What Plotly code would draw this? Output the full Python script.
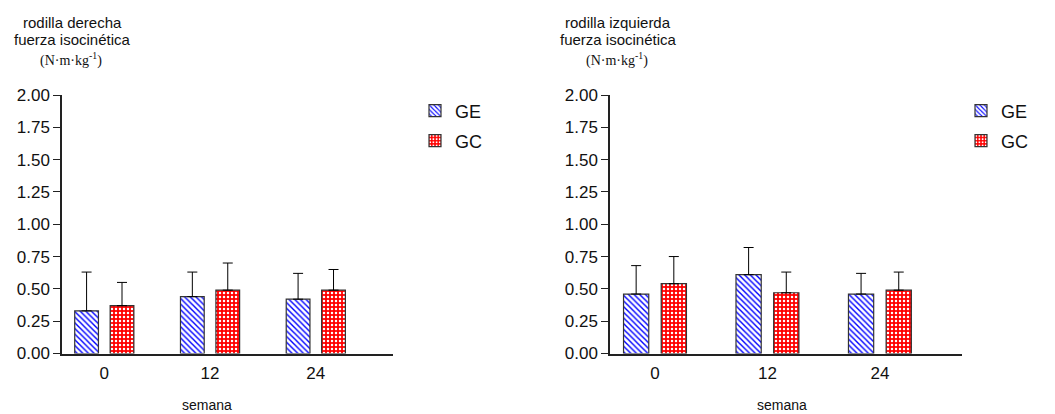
import plotly.graph_objects as go

# weeks of follow-up
semanas = ["0", "12", "24"]

# right knee: isokinetic strength, mean and SD (N·m·kg-1)
der_ge = [0.33, 0.44, 0.42]
der_ge_sd = [0.30, 0.19, 0.20]
der_gc = [0.37, 0.49, 0.49]
der_gc_sd = [0.18, 0.21, 0.16]

# left knee
izq_ge = [0.46, 0.61, 0.46]
izq_ge_sd = [0.22, 0.21, 0.16]
izq_gc = [0.54, 0.47, 0.49]
izq_gc_sd = [0.21, 0.16, 0.14]

y_ticks = [0, 0.25, 0.5, 0.75, 1.0, 1.25, 1.5, 1.75, 2.0]

W, H = 1055, 414
SANS = "Arial, 'Liberation Sans', sans-serif"
SERIF = "'Times New Roman', 'Liberation Serif', serif"

ge_style = dict(
    color="white",
    line=dict(color="#333333", width=1.2),
    pattern=dict(shape="\\", fgcolor="#0000ff", bgcolor="white", size=4, solidity=0.35),
)
gc_style = dict(
    color="red",
    line=dict(color="#333333", width=1.2),
    pattern=dict(shape=".", fgcolor="white", bgcolor="#ff0000", size=4, solidity=0.3),
)


def err(sd):
    return dict(type="data", symmetric=False, array=sd, arrayminus=[0] * len(sd),
                color="black", thickness=1, width=5)


fig = go.Figure()
fig.add_trace(go.Bar(x=semanas, y=der_ge, name="GE", marker=ge_style, error_y=err(der_ge_sd),
                     xaxis="x", yaxis="y", legend="legend"))
fig.add_trace(go.Bar(x=semanas, y=der_gc, name="GC", marker=gc_style, error_y=err(der_gc_sd),
                     xaxis="x", yaxis="y", legend="legend2"))
fig.add_trace(go.Bar(x=semanas, y=izq_ge, name="GE", marker=ge_style, error_y=err(izq_ge_sd),
                     xaxis="x2", yaxis="y2", legend="legend3"))
fig.add_trace(go.Bar(x=semanas, y=izq_gc, name="GC", marker=gc_style, error_y=err(izq_gc_sd),
                     xaxis="x2", yaxis="y2", legend="legend4"))

ydom = [1 - 353.5 / H, 1 - 95 / H]
xdom1 = [62 / W, 393 / W]
xdom2 = [610 / W, 962 / W]

xaxis_common = dict(
    type="category", range=[-0.4, 2.73], showline=True, linecolor="#222222", linewidth=1.5,
    ticks="outside", ticklen=3, tickcolor="rgba(0,0,0,0)", automargin=False,
    showgrid=False, zeroline=False, tickfont=dict(family=SANS, size=17, color="#111"),
)
yaxis_common = dict(
    range=[0, 2.0], tickvals=y_ticks, tickformat=".2f", showline=True, linecolor="#222222",
    linewidth=1.5, ticks="outside", ticklen=7, tickwidth=1.2, tickcolor="#222222",
    automargin=False, showgrid=False, zeroline=False,
    tickfont=dict(family=SANS, size=17, color="#111"),
)


def legend_at(px, py):
    return dict(x=px / W, y=1 - py / H, xanchor="left", yanchor="middle",
                font=dict(family=SANS, size=18, color="#111"), bgcolor="rgba(0,0,0,0)",
                itemclick=False, itemdoubleclick=False)


fig.update_layout(
    template="none",
    width=W, height=H, margin=dict(l=0, r=0, t=0, b=0, autoexpand=False),
    paper_bgcolor="white", plot_bgcolor="white",
    barmode="group", bargap=0.33, bargroupgap=0.33,
    xaxis=dict(domain=xdom1, anchor="y", **xaxis_common),
    yaxis=dict(domain=ydom, anchor="x", **yaxis_common),
    xaxis2=dict(domain=xdom2, anchor="y2", **xaxis_common),
    yaxis2=dict(domain=ydom, anchor="x2", **yaxis_common),
    legend=legend_at(415, 111),
    legend2=legend_at(415, 141),
    legend3=legend_at(961, 111),
    legend4=legend_at(961, 141),
    showlegend=True,
)


def note(cx, cy, text, family, size):
    fig.add_annotation(x=cx / W, y=1 - cy / H, xref="paper", yref="paper", showarrow=False,
                       text=text, xanchor="center", yanchor="middle",
                       font=dict(family=family, size=size, color="#111"))


# panel titles
for cx, knee in [(72, "rodilla derecha"), (618, "rodilla izquierda")]:
    note(cx, 22, knee, SANS, 15)
    note(cx, 40, "fuerza isocinética", SANS, 15)
    note(cx - 1, 60, "(N·m·kg<sup>-1</sup>)", SERIF, 14)

# x axis titles
for cx in [207, 782]:
    note(cx, 405, "semana", SANS, 14)

fig.write_html("out.html")
